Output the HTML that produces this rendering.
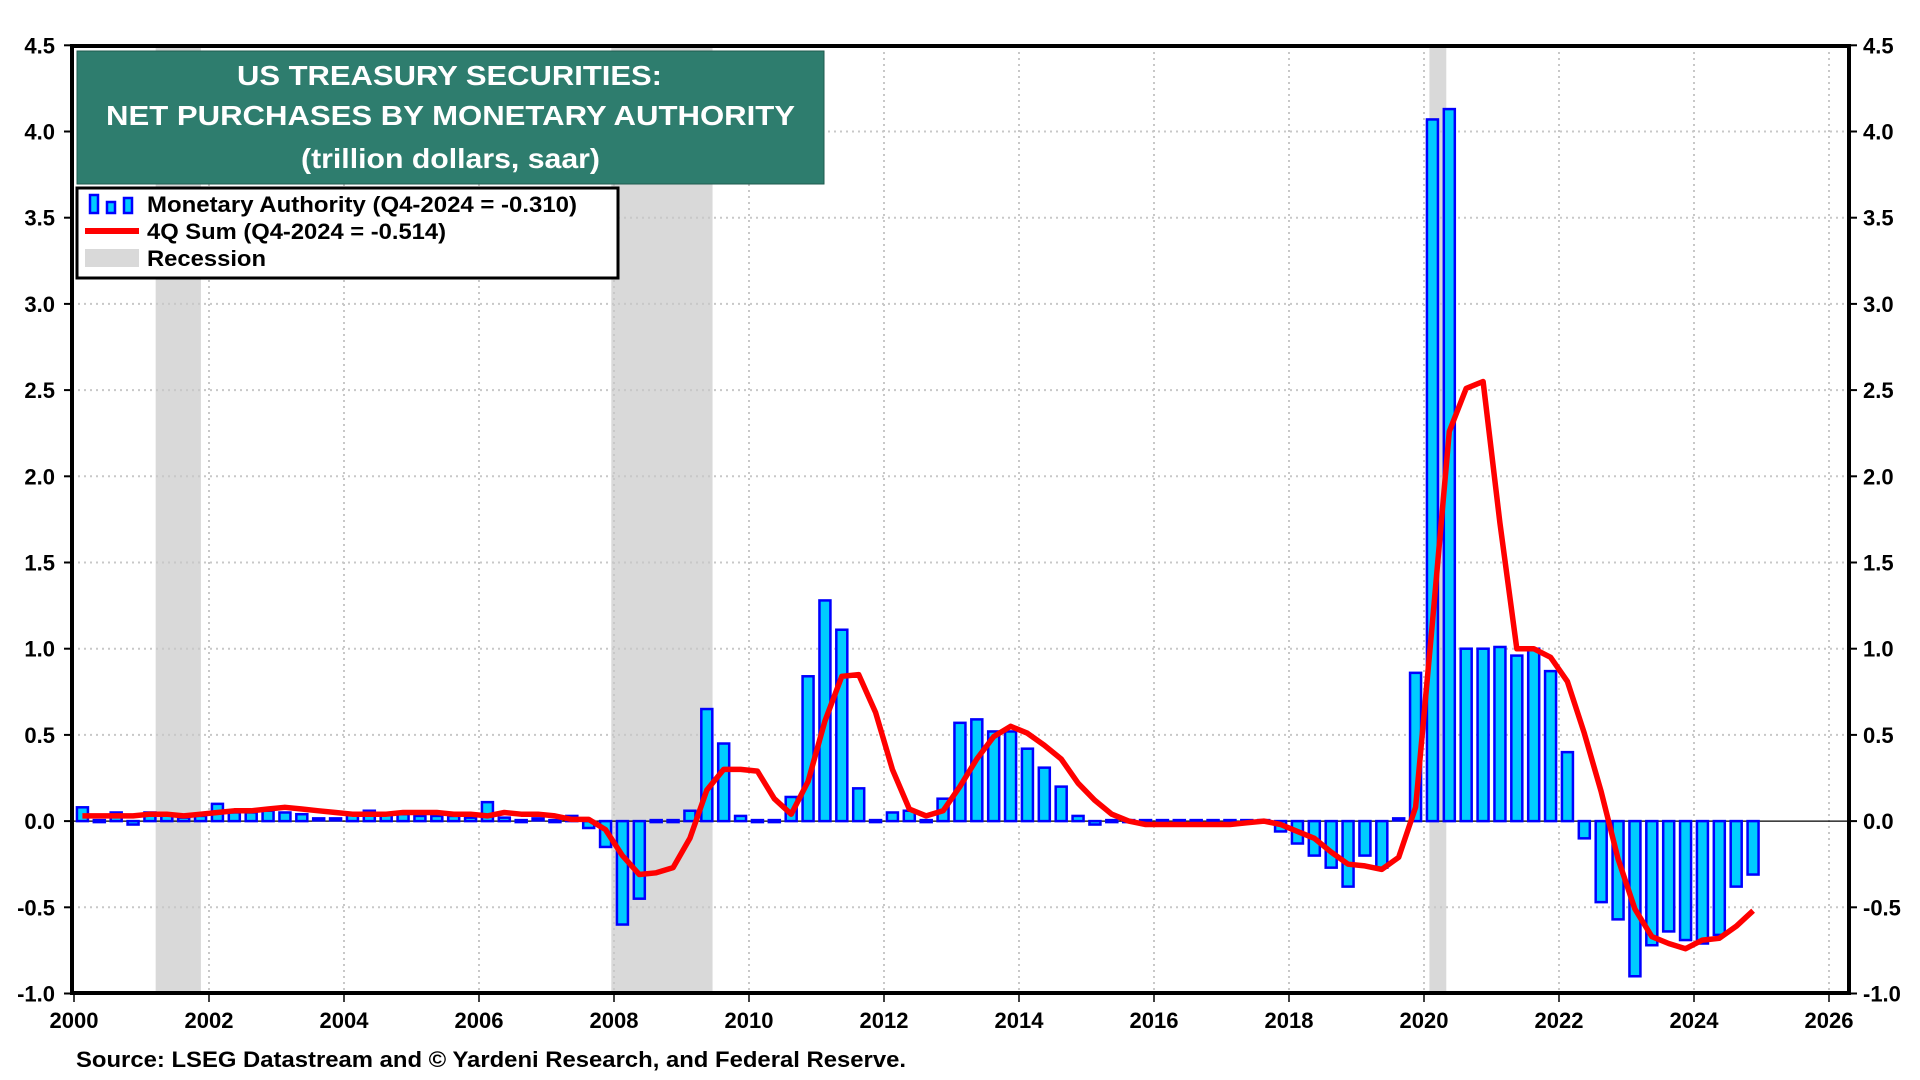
<!DOCTYPE html>
<html><head><meta charset="utf-8">
<style>
html,body{margin:0;padding:0;background:#fff;}
svg{display:block;font-family:"Liberation Sans",Arial,sans-serif;font-weight:bold;}
</style></head>
<body>
<svg id="chart" width="1920" height="1080" viewBox="0 0 1920 1080" xmlns="http://www.w3.org/2000/svg">
<rect x="0" y="0" width="1920" height="1080" fill="#fff"/>
<g id="rec"></g><g id="grid"></g><g id="bars"></g><g id="line"></g><g id="axes"></g>
<g>
<rect x="77" y="51" width="747" height="133" fill="#2e7d6e" stroke="#1e5a4e" stroke-width="1"/>
<text x="237" y="85" textLength="425" lengthAdjust="spacingAndGlyphs" fill="#fff" font-size="28">US TREASURY SECURITIES:</text>
<text x="106" y="125" textLength="689" lengthAdjust="spacingAndGlyphs" fill="#fff" font-size="28">NET PURCHASES BY MONETARY AUTHORITY</text>
<text x="301" y="168" textLength="299" lengthAdjust="spacingAndGlyphs" fill="#fff" font-size="28">(trillion dollars, saar)</text>
</g>
<g>
<rect x="77" y="188" width="541" height="90" fill="#fff" stroke="#000" stroke-width="3"/>
<g>
<rect x="90" y="195" width="8" height="18" fill="#00ccff" stroke="#0000ff" stroke-width="2.5"/>
<rect x="107" y="202" width="8" height="11" fill="#00ccff" stroke="#0000ff" stroke-width="2.5"/>
<rect x="124" y="198" width="8" height="15" fill="#00ccff" stroke="#0000ff" stroke-width="2.5"/>
<text x="147" y="212" textLength="430" lengthAdjust="spacingAndGlyphs" font-size="22">Monetary Authority (Q4-2024 = -0.310)</text></g>
<g>
<rect x="85" y="228" width="54" height="6" fill="#ff0000"/>
<text x="147" y="239" textLength="299" lengthAdjust="spacingAndGlyphs" font-size="22">4Q Sum (Q4-2024 = -0.514)</text></g>
<g>
<rect x="85" y="249" width="54" height="18" fill="#d9d9d9"/>
<text x="147" y="266" textLength="119" lengthAdjust="spacingAndGlyphs" font-size="22">Recession</text></g>
</g>
<text x="76" y="1067" textLength="830" lengthAdjust="spacingAndGlyphs" font-size="22">Source: LSEG Datastream and © Yardeni Research, and Federal Reserve.</text>
</svg>
<script>
const startYear = 2000;
const barValues = [
0.08,0.00,0.05,-0.02, 0.05,0.04,0.02,0.03, 0.10,0.05,0.05,0.06, 0.05,0.04,0.01,0.01,
0.04,0.06,0.04,0.04, 0.03,0.03,0.03,0.02, 0.11,0.02,-0.01,0.01, 0.00,0.03,-0.04,-0.15,
-0.60,-0.45,-0.01,-0.01, 0.06,0.65,0.45,0.03, 0.00,0.00,0.14,0.84, 1.28,1.11,0.19,-0.01,
0.05,0.06,0.00,0.13, 0.57,0.59,0.52,0.52, 0.42,0.31,0.20,0.03, -0.02,-0.01,0.00,0.00,
0.00,0.00,0.00,0.00, 0.00,0.00,0.00,-0.06, -0.13,-0.20,-0.27,-0.38, -0.20,-0.27,0.01,0.86,
4.07,4.13,1.00,1.00, 1.01,0.96,1.00,0.87, 0.40,-0.10,-0.47,-0.57, -0.90,-0.72,-0.64,-0.69,
-0.71,-0.66,-0.38,-0.31];
const sumValues = [
0.03,0.03,0.03,0.03, 0.04,0.04,0.03,0.04, 0.05,0.06,0.06,0.07, 0.08,0.07,0.06,0.05,
0.04,0.04,0.04,0.05, 0.05,0.05,0.04,0.04, 0.03,0.05,0.04,0.04, 0.03,0.01,0.01,-0.05,
-0.20,-0.31,-0.30,-0.27, -0.10,0.18,0.30,0.30, 0.29,0.13,0.04,0.23, 0.58,0.84,0.85,0.63,
0.30,0.07,0.03,0.06, 0.20,0.36,0.49,0.55, 0.51,0.44,0.36,0.22, 0.12,0.04,0.00,-0.02,
-0.02,-0.02,-0.02,-0.02, -0.02,-0.01,0.00,-0.02, -0.06,-0.10,-0.18,-0.25, -0.26,-0.28,-0.21,0.08,
1.15,2.26,2.51,2.55, 1.73,1.00,1.00,0.95, 0.81,0.51,0.17,-0.22, -0.51,-0.67,-0.71,-0.74,
-0.69,-0.68,-0.61,-0.52];
const recessions = [[2001.21,2001.88],[2007.96,2009.46],[2020.08,2020.33]];
const yTicks = [4.5,4.0,3.5,3.0,2.5,2.0,1.5,1.0,0.5,0.0,-0.5,-1.0];
const xTicks = [2000,2002,2004,2006,2008,2010,2012,2014,2016,2018,2020,2022,2024,2026];

const L=72,R=1849,T=46,B=993;
const X=t=>74+(t-2000)*67.5;
const Y=v=>45.3+(4.5-v)*172.4;
const NS="http://www.w3.org/2000/svg";
function mk(tag,attrs,parent){const e=document.createElementNS(NS,tag);for(const k in attrs)e.setAttribute(k,attrs[k]);parent.appendChild(e);return e;}
const gRec=document.getElementById('rec'),gGrid=document.getElementById('grid'),gBars=document.getElementById('bars'),gLine=document.getElementById('line'),gAx=document.getElementById('axes');

recessions.forEach(r=>{const e=mk('rect',{x:X(r[0]),y:T,width:X(r[1])-X(r[0]),height:B-T,fill:'#d9d9d9'},gRec);

});

yTicks.forEach(v=>{
 if(v!==0&&v!==4.5&&v!==-1.0){const g=mk('line',{x1:L,x2:R,y1:Y(v),y2:Y(v),stroke:'#c8c8c8','stroke-width':2,'stroke-dasharray':'2,4'},gGrid);
 
 }
 const t1=mk('text',{x:55,y:Y(v)+8,'text-anchor':'end','font-size':22},gAx);t1.textContent=v.toFixed(1);
 
 
 const t2=mk('text',{x:1863,y:Y(v)+8,'text-anchor':'start','font-size':22},gAx);t2.textContent=v.toFixed(1);
 
 
 mk('line',{x1:L-8,x2:L,y1:Y(v),y2:Y(v),stroke:'#000','stroke-width':2},gAx);
 mk('line',{x1:R,x2:R+8,y1:Y(v),y2:Y(v),stroke:'#000','stroke-width':2},gAx);
});
xTicks.forEach(t=>{
 if(t>2000){const g=mk('line',{x1:X(t),x2:X(t),y1:T,y2:B,stroke:'#c8c8c8','stroke-width':2,'stroke-dasharray':'2,4'},gGrid);
 
 }
 mk('line',{x1:X(t),x2:X(t),y1:B,y2:B+9,stroke:'#000','stroke-width':1.5},gAx);
 const tx=mk('text',{x:X(t),y:1028,'text-anchor':'middle','font-size':22},gAx);tx.textContent=t;
 
 
});
const zl=mk('line',{x1:L,x2:R,y1:Y(0),y2:Y(0),stroke:'#000','stroke-width':1.2},gGrid);



barValues.forEach((v,i)=>{
 const t=startYear+i*0.25+0.125,y0=Y(0),y1=Y(v);
 const h=Math.max(Math.abs(y1-y0),2);
 const b=mk('rect',{x:X(t)-5.5,y:Math.min(y0,y1)-(h===2?1:0),width:11,height:h,fill:'#00ccff',stroke:'#0000ff','stroke-width':2.5},gBars);
 
 
});
const pts=sumValues.map((v,i)=>X(startYear+i*0.25+0.125).toFixed(1)+','+Y(v).toFixed(1)).join(' ');
const pl=mk('polyline',{points:pts,fill:'none',stroke:'#ff0000','stroke-width':5.5,'stroke-linejoin':'round'},gLine);



const fr=mk('rect',{x:L,y:T,width:R-L,height:B-T,fill:'none',stroke:'#000','stroke-width':4},gAx);


</script>
</body></html>
